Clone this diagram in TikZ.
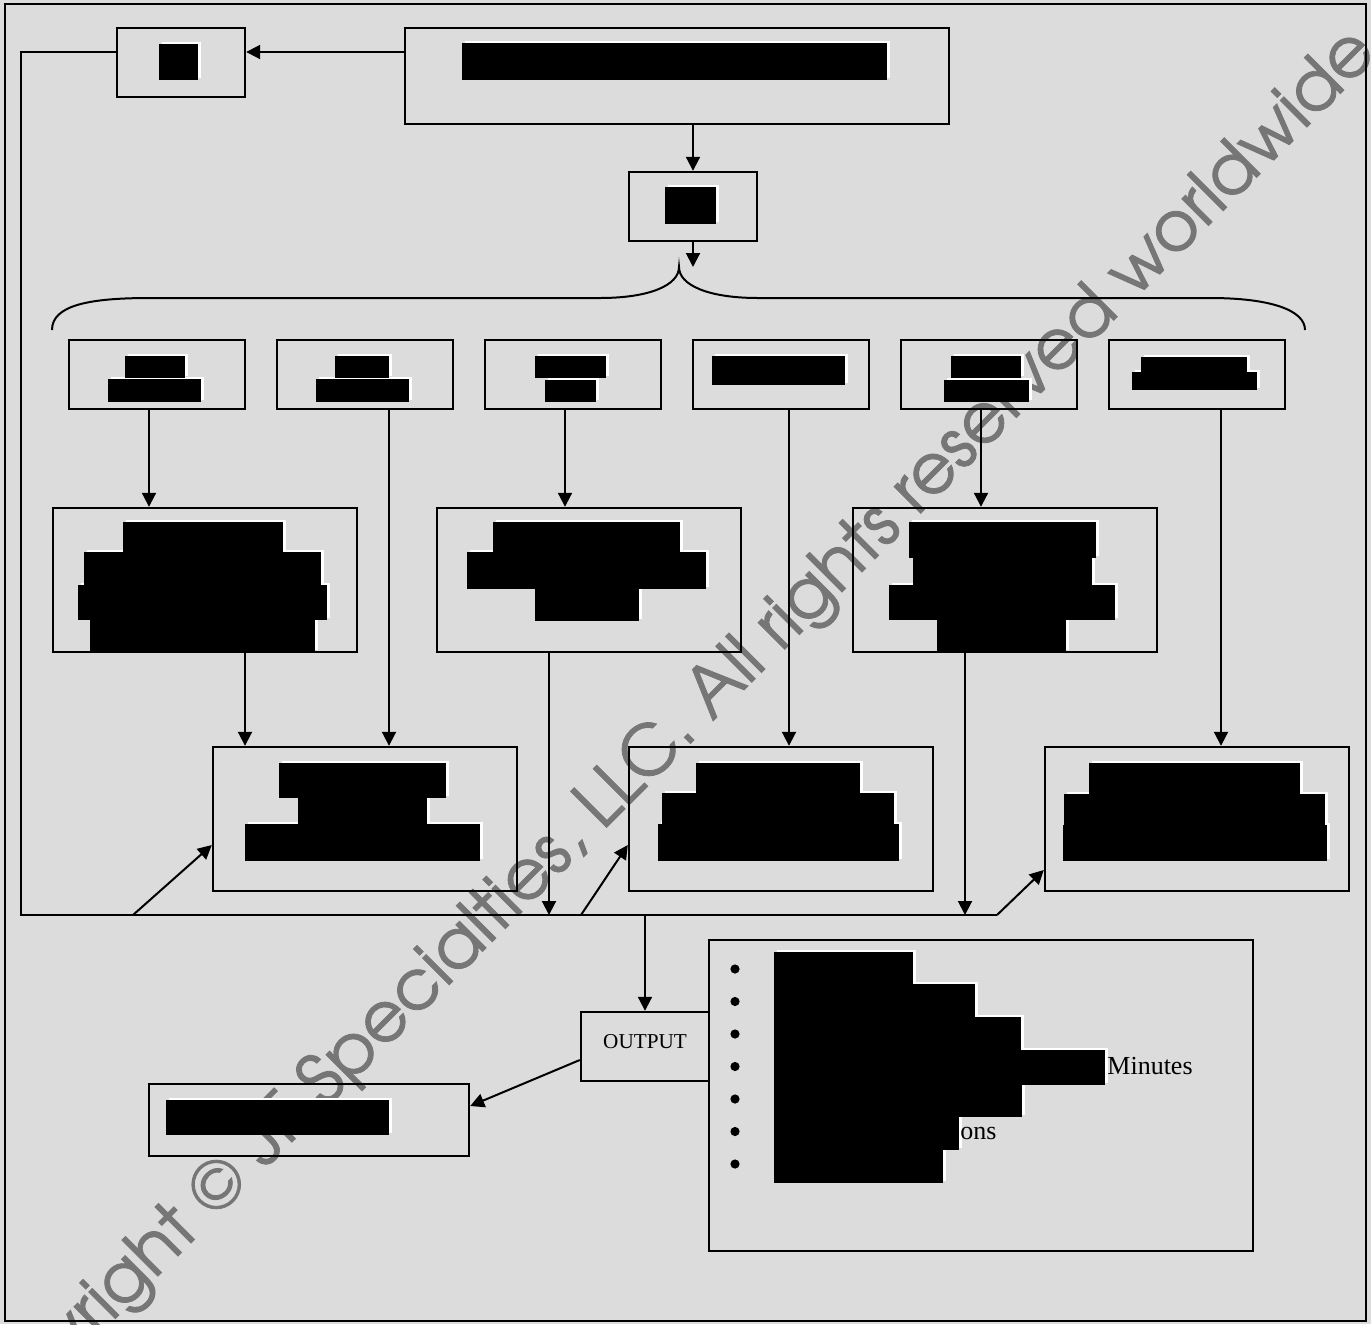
\documentclass[tikz,border=0pt]{standalone}
\usepackage{fontspec}
\setmainfont{Liberation Serif}
\newfontfamily\markfont[FakeBold=1.2]{TeX Gyre Adventor}
\usetikzlibrary{arrows.meta, positioning}
\definecolor{panel}{RGB}{220,220,220}
\definecolor{markgray}{RGB}{118,118,118}
\tikzset{
  >={Triangle[length=7pt,width=7pt]},
  node distance=104pt,
  box/.style={draw, line width=1.2pt, inner sep=0pt},
  tagbox/.style={box, minimum width=64pt, minimum height=34.5pt},
  stagebox/.style={box, minimum width=88pt, minimum height=34.5pt},
  widebox/.style={box, minimum width=152pt, minimum height=72pt},
  link/.style={line width=1pt},
}
% blocks given as x1/y1/x2/y2, white glint first, then black
\newcommand{\blackout}[1]{%
  \foreach \xa/\ya/\xb/\yb in {#1} \fill[white] (\xa+3,\ya-2) rectangle (\xb+3,\yb-2);
  \foreach \xa/\ya/\xb/\yb in {#1} \fill[black] (\xa,\ya) rectangle (\xb,\yb);}

\begin{document}
\begin{tikzpicture}[x=0.5pt, y=-0.5pt]
  \fill[panel] (0,0) rectangle (1371,1324);
  \useasboundingbox (0,0) rectangle (1371,1324);

  % watermark, under everything
  \node[rotate=45, anchor=base east, inner sep=0pt, text=markgray,
        font=\markfont\fontsize{34.5}{34.5}\selectfont] (mark) at (1379,55)
        {Copyright © JF Specialties, LLC. All rights reserved worldwide};

  \draw[line width=1.2pt] (5,4) rectangle (1366,1321);

  % top
  \node[tagbox] (tag) at (181,62.5) {};
  \node[box, minimum width=272pt, minimum height=48pt] (title) at (677,76) {};
  \node[tagbox] (hub) at (693,206.5) {};

  % stages
  \node[stagebox] (s1) at (157,374.5) {};
  \node[stagebox, right of=s1] (s2) {};
  \node[stagebox, right of=s2] (s3) {};
  \node[stagebox, right of=s3] (s4) {};
  \node[stagebox, right of=s4] (s5) {};
  \node[stagebox, right of=s5] (s6) {};

  \node[widebox] (p1) at (205,580) {};
  \node[widebox, right of=p1, node distance=192pt] (p2) {};
  \node[widebox, right of=p2, node distance=208pt] (p3) {};

  \node[widebox] (q1) at (365,819) {};
  \node[widebox, right of=q1, node distance=208pt] (q2) {};
  \node[widebox, right of=q2, node distance=208pt] (q3) {};

  % output side
  \node[tagbox, font=\fontsize{10.6}{12}\selectfont, text height=7pt, text depth=5.5pt] (out) at (645,1046.5) {OUTPUT};
  \node[box, minimum width=160pt, minimum height=36pt] (rep) at (309,1120) {};
  \node[box, minimum width=272pt, minimum height=155.5pt] (list) at (981,1095.5) {};

  % redactions
  \blackout{159/44/198/80}
  \blackout{462/43/887/80}
  \blackout{665/187/716/224}
  \blackout{125/356/185/378, 108/379/201/402}
  \blackout{335/356/389/378, 316/379/409/402}
  \blackout{535/356/606/378, 545/380/596/402}
  \blackout{712/356/845/385}
  \blackout{951/356/1021/378, 944/380/1029/402}
  \blackout{1141/357/1247/372, 1132/372/1257/390}
  \blackout{123/522/283/552, 84/552/321/585, 78/585/327/620, 90/620/315/652}
  \blackout{493/522/680/552, 467/552/706/589, 535/589/639/621}
  \blackout{909/522/1096/558, 913/558/1092/585, 889/585/1115/620, 937/620/1066/652}
  \blackout{279/763/446/798, 298/798/427/824, 245/824/480/861}
  \blackout{696/763/860/793, 662/793/894/824, 658/824/899/861}
  \blackout{1089/763/1300/794, 1064/794/1325/825, 1063/825/1327/861}
  \blackout{166/1100/389/1135}
  \blackout{774/952/913/985, 774/984/975/1017, 774/1017/1021/1050, 774/1050/1105/1085, 774/1085/1022/1117, 774/1117/959/1150, 774/1150/943/1183}

  % list entries
  \foreach \yy in {969,1001.5,1034,1066.5,1099,1131.5,1164}
    \fill (735,\yy) circle[radius=2.3pt];
  \node[anchor=base west, inner sep=0pt, font=\fontsize{13}{15}\selectfont] (mins) at (1107,1074) {Minutes};
  \node[anchor=base west, inner sep=0pt, font=\fontsize{13}{15}\selectfont] (ons) at (960,1139) {ons};

  % brace
  \coordinate (tip) at (679,267);
  \draw[link] (52,330) .. controls (52,305) and (90,298) .. (150,298) -- (600,298)
    .. controls (650,298) and (679,285) .. (tip)
    .. controls (679,285) and (708,298) .. (758,298) -- (1210,298)
    .. controls (1270,298) and (1305,310) .. (1305,330);

  % connectors
  \coordinate (lvl) at (0,52);
  \coordinate (busL) at (21,915);
  \coordinate (busR) at (997,915);
  \coordinate (j1) at (133,915);
  \coordinate (j2) at (581,915);
  \coordinate (j3) at (645,915);
  \coordinate (d1) at ([xshift=-4pt]s1.south);
  \coordinate (d2) at ([xshift=12pt]s2.south);
  \coordinate (d3) at ([xshift=-4pt]s3.south);
  \coordinate (d4) at ([xshift=4pt]s4.south);
  \coordinate (d5) at ([xshift=-4pt]s5.south);
  \coordinate (d6) at ([xshift=12pt]s6.south);
  \coordinate (e1) at ([xshift=20pt]p1.south);
  \coordinate (e2) at ([xshift=-20pt]p2.south);
  \coordinate (e3) at ([xshift=-20pt]p3.south);

  \draw[link,->] (title.west |- lvl) -- (tag.east |- lvl);
  \draw[link,->] (hub.north |- title.south) -- (hub.north);
  \draw[link,->] (hub.south) -- (hub.south |- tip);
  \draw[link] (tag.west |- lvl) -| (busL) -- (busR);

  \path[link,->] (d1) edge (d1 |- p1.north)
                 (d2) edge (d2 |- q1.north)
                 (d3) edge (d3 |- p2.north)
                 (d4) edge (d4 |- q2.north)
                 (d5) edge (d5 |- p3.north)
                 (d6) edge (d6 |- q3.north)
                 (e1) edge (e1 |- q1.north)
                 (e2) edge (e2 |- busL)
                 (e3) edge (e3 |- busL)
                 (j1) edge ([yshift=-13pt]q1.west)
                 (j2) edge ([yshift=-13pt]q2.west)
                 (busR) edge ([yshift=-25.5pt]q3.west)
                 (j3) edge (out.north)
                 ([yshift=-6.75pt]out.west) edge ([yshift=7pt]rep.east);
\end{tikzpicture}
\end{document}
